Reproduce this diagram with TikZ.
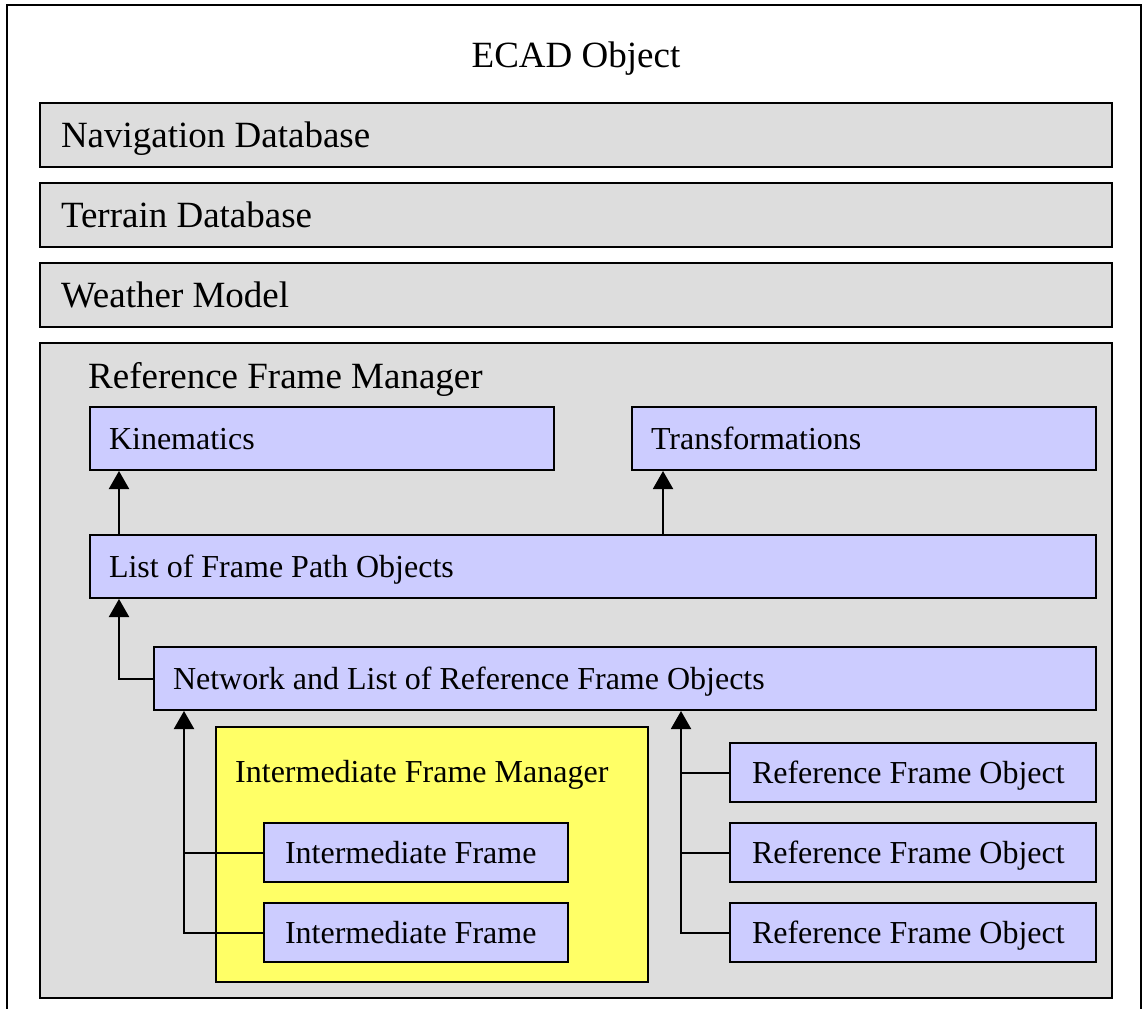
\documentclass[tikz,border=0pt]{standalone}
\usepackage{fontspec}
\setmainfont{Liberation Serif}
\usetikzlibrary{arrows.meta}
\definecolor{boxgray}{HTML}{DDDDDD}
\definecolor{lavender}{HTML}{CCCCFF}
\definecolor{lemon}{HTML}{FFFF66}
\newcommand{\bigtext}{\fontsize{37}{44}\selectfont}
\newcommand{\smalltext}{\fontsize{32}{38}\selectfont}

\begin{document}
\begin{tikzpicture}[x=1pt,y=-1pt]
\tikzstyle{box}=[draw,line width=2pt,anchor=north west,align=flush left,inner ysep=0pt];
\tikzstyle{dbbox}=[box,fill=boxgray,inner xsep=21pt,text width=1030pt,minimum height=64pt,font=\bigtext,text height=25pt,text depth=0pt];
\tikzstyle{objbox}=[box,fill=lavender,inner xsep=19pt,minimum height=63pt,font=\smalltext,text height=22pt,text depth=0pt];
\tikzstyle{subbox}=[box,fill=lavender,inner xsep=21pt,minimum height=59pt,font=\smalltext,text height=22pt,text depth=0pt];
\tikzstyle{arr}=[line width=2pt,-{Triangle[width=20pt,length=18pt]}];
\tikzstyle{link}=[line width=2pt];
\useasboundingbox (0,0) rectangle (1143,1009);
\fill[white] (0,0) rectangle (1143,1009);
\draw[line width=2.5pt] (7,1012) -- (7,5) -- (1141,5) -- (1141,1012);
\node[font=\bigtext] (ecad) at (576,59) {ECAD Object};
\node[dbbox] (nav) at (39,102) {Navigation Database};
\node[dbbox] (ter) at (39,182) {Terrain Database};
\node[dbbox] (wea) at (39,262) {Weather Model};
\node[box,fill=boxgray,minimum width=1072pt,minimum height=655pt] (rfm) at (39,342) {};
\node[font=\bigtext,anchor=west,inner sep=0pt] (rfmtitle) at (88,379) {Reference Frame Manager};
\node[objbox,text width=426pt] (kin) at (89,406) {Kinematics};
\node[objbox,text width=426pt] (tra) at (631,406) {Transformations};
\node[objbox,text width=968pt] (lst) at (89,534) {List of Frame Path Objects};
\node[objbox,text width=904pt] (net) at (153,646) {Network and List of Reference Frame Objects};
\node[box,fill=lemon,minimum width=432pt,minimum height=255pt] (ifm) at (215,726) {};
\node[font=\smalltext,anchor=west,inner sep=0pt] (ifmtitle) at (235,775) {Intermediate Frame Manager};
\node[subbox,text width=262pt] (if1) at (263,822) {Intermediate Frame};
\node[subbox,text width=262pt] (if2) at (263,902) {Intermediate Frame};
\node[subbox,inner xsep=22pt,text width=322pt] (rf1) at (729,742) {Reference Frame Object};
\node[subbox,inner xsep=22pt,text width=322pt] (rf2) at (729,822) {Reference Frame Object};
\node[subbox,inner xsep=22pt,text width=322pt] (rf3) at (729,902) {Reference Frame Object};
\coordinate (kinx) at ([xshift=30pt]lst.north west);
\coordinate (trax) at ([xshift=32pt]tra.south west);
\coordinate (ifbus) at ([xshift=31pt]net.south west);
\coordinate (rfbus) at ([xshift=528pt]net.south west);
\draw[arr] (kinx) -- (kinx |- kin.south);
\draw[arr] (trax |- lst.north) -- (trax);
\draw[arr] (net.west) -| ([xshift=30pt]lst.south west);
\draw[arr] (if2.west) -| (ifbus);
\draw[link] (if1.west) -- (if1.west -| ifbus);
\draw[arr] (rf3.west) -| (rfbus);
\draw[link] (rf2.west) -- (rf2.west -| rfbus);
\draw[link] (rf1.west) -- (rf1.west -| rfbus);
\end{tikzpicture}
\end{document}
